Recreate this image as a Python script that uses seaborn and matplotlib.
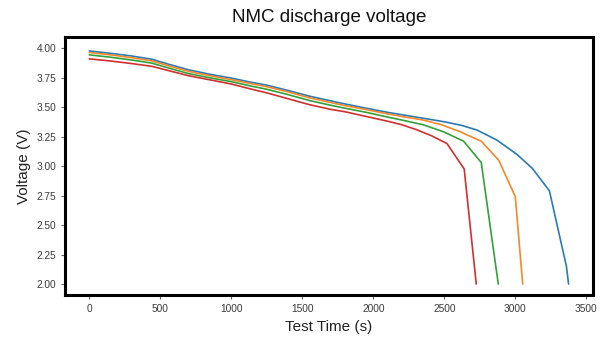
import numpy as np
import pandas as pd
import matplotlib
matplotlib.use("Agg")
import matplotlib.pyplot as plt
import seaborn as sns

# ---- data ----
t_blue = [0, 150, 300, 440, 560, 700, 850, 1000, 1130, 1250, 1400, 1550, 1700, 1800,
          1950, 2100, 2200, 2350, 2500, 2620, 2730, 2870, 3010, 3120, 3240, 3360, 3375]
v_blue = [3.975, 3.955, 3.932, 3.905, 3.862, 3.815, 3.777, 3.745, 3.712, 3.685, 3.64, 3.592, 3.552, 3.526,
          3.49, 3.455, 3.435, 3.405, 3.375, 3.345, 3.305, 3.22, 3.10, 2.98, 2.79, 2.15, 2.00]

t_orange = [0, 150, 300, 440, 560, 700, 850, 1000, 1130, 1250, 1400, 1550, 1700, 1800,
            1950, 2100, 2200, 2350, 2480, 2612, 2760, 2883, 3000, 3052]
v_orange = [3.962, 3.942, 3.918, 3.891, 3.849, 3.802, 3.765, 3.732, 3.70, 3.672, 3.628, 3.578, 3.538, 3.512,
            3.478, 3.442, 3.42, 3.39, 3.35, 3.29, 3.21, 3.05, 2.74, 2.00]

t_green = [0, 150, 300, 440, 560, 700, 850, 1000, 1130, 1250, 1400, 1550, 1700, 1800,
           1950, 2100, 2200, 2350, 2495, 2636, 2760, 2880]
v_green = [3.942, 3.922, 3.898, 3.872, 3.83, 3.783, 3.747, 3.715, 3.68, 3.65, 3.605, 3.555, 3.515, 3.49,
           3.455, 3.415, 3.39, 3.35, 3.29, 3.21, 3.03, 2.00]

t_red = [0, 150, 300, 440, 560, 700, 850, 1000, 1130, 1250, 1400, 1550, 1700, 1800,
         1950, 2100, 2200, 2300, 2413, 2519, 2640, 2725]
v_red = [3.908, 3.89, 3.868, 3.845, 3.808, 3.765, 3.73, 3.695, 3.655, 3.62, 3.57, 3.52, 3.48, 3.46,
         3.42, 3.38, 3.35, 3.31, 3.255, 3.19, 2.975, 2.00]

series_names = ["cell 1", "cell 2", "cell 3", "cell 4"]
x_ticks = [0, 500, 1000, 1500, 2000, 2500, 3000, 3500]
y_ticks = [2.00, 2.25, 2.50, 2.75, 3.00, 3.25, 3.50, 3.75, 4.00]

frames = []
for name, t, v in zip(series_names, [t_blue, t_orange, t_green, t_red],
                      [v_blue, v_orange, v_green, v_red]):
    frames.append(pd.DataFrame({"time": t, "voltage": v, "cell": name}))
df = pd.concat(frames, ignore_index=True)

# ---- style ----
sns.set_theme(style="ticks")
plt.rcParams["font.family"] = ["Liberation Sans", "DejaVu Sans"]

fig = plt.figure(figsize=(6.03, 3.43), dpi=100)
ax = fig.add_axes([0.1078, 0.140, 0.8756, 0.752])

sns.lineplot(data=df, x="time", y="voltage", hue="cell", hue_order=series_names,
             palette=["#2a7ab5", "#f5882a", "#35a03a", "#cf3032"],
             sort=False, estimator=None, linewidth=1.2, legend=False, ax=ax)

ax.set_xlim(-171, 3547)
ax.set_ylim(1.907, 4.093)
ax.set_xticks(x_ticks)
ax.set_yticks(y_ticks)
ax.set_yticklabels([f"{y:.2f}" for y in y_ticks])
ax.tick_params(axis="both", labelsize=7.3, colors="#666666", labelcolor="#3a3a3a",
               length=3, width=0.8)

for sp in ax.spines.values():
    sp.set_visible(True)
    sp.set_linewidth(2.2)
    sp.set_color("black")

ax.set_xlabel("Test Time (s)", fontsize=11, color="#222222")
ax.set_ylabel("Voltage (V)", fontsize=11, color="#222222")
ax.set_title("NMC discharge voltage", fontsize=13.5, color="#111111", pad=11)

fig.savefig("out.png", dpi=100)
